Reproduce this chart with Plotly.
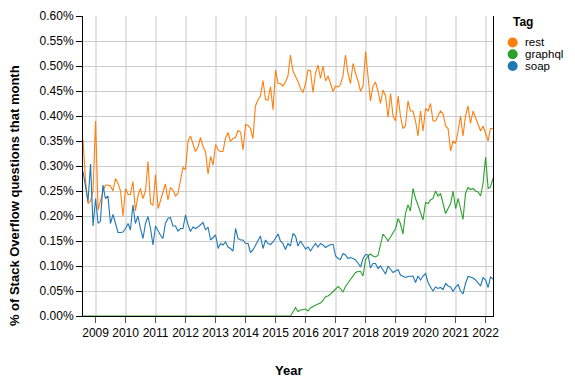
import pandas as pd
import plotly.graph_objects as go

# Monthly dates Aug 2008 .. Apr 2022
months = pd.date_range("2008-08-01", "2022-04-01", freq="MS")

tags = ["rest", "graphql", "soap"]
colors = ["#ff7f0e", "#2ca02c", "#1f77b4"]

# % of Stack Overflow questions that month
rest = [
    0.353, 0.27, 0.225, 0.23, 0.25,
    0.39, 0.212, 0.232, 0.249, 0.262, 0.262, 0.26, 0.25, 0.275, 0.265, 0.25, 0.20,
    0.255, 0.243, 0.243, 0.269, 0.21, 0.24, 0.255, 0.235, 0.25, 0.309, 0.225, 0.222,
    0.283, 0.215, 0.23, 0.245, 0.264, 0.232, 0.257, 0.252, 0.24, 0.245, 0.275, 0.297,
    0.293, 0.35, 0.36, 0.345, 0.329, 0.338, 0.357, 0.339, 0.328, 0.284, 0.319, 0.302,
    0.343, 0.332, 0.329, 0.329, 0.355, 0.367, 0.349, 0.355, 0.357, 0.371, 0.368, 0.332,
    0.383, 0.381, 0.375, 0.355, 0.42, 0.432, 0.44, 0.471, 0.433, 0.432, 0.459, 0.412,
    0.492, 0.465, 0.465, 0.46, 0.468, 0.48, 0.522, 0.49, 0.48, 0.469, 0.455, 0.447,
    0.465, 0.492, 0.49, 0.447, 0.485, 0.502, 0.475, 0.5, 0.47, 0.48, 0.465, 0.449,
    0.46, 0.458, 0.463, 0.48, 0.522, 0.485, 0.465, 0.505, 0.485, 0.47, 0.449, 0.46,
    0.529, 0.48, 0.43, 0.46, 0.468, 0.45, 0.425, 0.452, 0.44, 0.397, 0.445, 0.40,
    0.39, 0.44, 0.40, 0.375, 0.38, 0.43, 0.41, 0.41, 0.39, 0.36, 0.41, 0.37,
    0.415, 0.41, 0.425, 0.39, 0.39, 0.4, 0.41, 0.405, 0.38, 0.375, 0.33, 0.35,
    0.345, 0.37, 0.40, 0.36, 0.40, 0.42, 0.385, 0.41, 0.395, 0.385, 0.37, 0.38,
    0.365, 0.35, 0.375, 0.375,
]

graphql = [
    0, 0, 0, 0, 0,
    0, 0, 0, 0, 0, 0, 0, 0, 0, 0, 0, 0,
    0, 0, 0, 0, 0, 0, 0, 0, 0, 0, 0, 0,
    0, 0, 0, 0, 0, 0, 0, 0, 0, 0, 0, 0,
    0, 0, 0, 0, 0, 0, 0, 0, 0, 0, 0, 0,
    0, 0, 0, 0, 0, 0, 0, 0, 0, 0, 0, 0,
    0, 0, 0, 0, 0, 0, 0, 0, 0, 0, 0, 0,
    0, 0, 0, 0, 0, 0, 0, 0.008, 0.017, 0.009, 0.012, 0.013,
    0.014, 0.01, 0.016, 0.019, 0.022, 0.024, 0.026, 0.031, 0.039, 0.04, 0.044, 0.049,
    0.054, 0.059, 0.055, 0.048, 0.059, 0.066, 0.074, 0.08, 0.087, 0.089, 0.089, 0.08,
    0.113, 0.12, 0.124, 0.12, 0.118, 0.121, 0.14, 0.164, 0.158, 0.15, 0.158, 0.167,
    0.175, 0.195, 0.185, 0.164, 0.205, 0.222, 0.21, 0.255, 0.235, 0.222, 0.208, 0.192,
    0.227, 0.225, 0.232, 0.235, 0.25, 0.24, 0.245, 0.225, 0.205, 0.215, 0.225, 0.25,
    0.215, 0.235, 0.215, 0.193, 0.245, 0.257, 0.253, 0.255, 0.25, 0.248, 0.24, 0.265,
    0.318, 0.255, 0.258, 0.275,
]

soap = [
    0.289, 0.255, 0.229, 0.304, 0.18,
    0.235, 0.185, 0.19, 0.262, 0.235, 0.24, 0.185, 0.203, 0.185, 0.167, 0.167, 0.168,
    0.175, 0.185, 0.172, 0.222, 0.185, 0.2, 0.175, 0.155, 0.185, 0.199, 0.175, 0.142,
    0.18, 0.17, 0.162, 0.155, 0.185, 0.195, 0.197, 0.18, 0.18, 0.17, 0.175, 0.175,
    0.202, 0.182, 0.169, 0.178, 0.175, 0.178, 0.182, 0.187, 0.172, 0.178, 0.152, 0.158,
    0.162, 0.135, 0.145, 0.142, 0.148, 0.138, 0.135, 0.13, 0.175, 0.155, 0.152, 0.152,
    0.145, 0.145, 0.127, 0.132, 0.142, 0.152, 0.16, 0.135, 0.152, 0.145, 0.143, 0.148,
    0.155, 0.164, 0.15, 0.145, 0.133, 0.145, 0.14, 0.165, 0.16, 0.14, 0.15, 0.143,
    0.134, 0.138, 0.13, 0.138, 0.145, 0.138, 0.145, 0.142, 0.137, 0.14, 0.143, 0.143,
    0.12, 0.115, 0.113, 0.125, 0.122, 0.115, 0.117, 0.115, 0.112, 0.106, 0.098, 0.115,
    0.123, 0.122, 0.096, 0.105, 0.105, 0.095, 0.1, 0.092, 0.084, 0.1, 0.094, 0.087,
    0.09, 0.093, 0.082, 0.08, 0.077, 0.079, 0.08, 0.08, 0.067, 0.08, 0.072, 0.08,
    0.085, 0.067, 0.058, 0.05, 0.058, 0.055, 0.057, 0.053, 0.065, 0.06, 0.058, 0.049,
    0.058, 0.063, 0.05, 0.044, 0.065, 0.079, 0.078, 0.076, 0.072, 0.065, 0.06, 0.077,
    0.072, 0.057, 0.078, 0.074,
]

series = [rest, graphql, soap]

FONT = "Liberation Sans, Arial, sans-serif"

fig = go.Figure()
for name, vals, col in zip(tags, series, colors):
    fig.add_trace(go.Scatter(x=months, y=vals, mode="lines", name=name,
                             line=dict(color=col, width=1.1), showlegend=False))

# Legend (symbol + label), placed in the right margin
annotations = [
    dict(text="<b>% of Stack Overflow questions that month</b>", xref="paper", yref="paper",
         x=-0.168, y=0.4, textangle=-90, showarrow=False, font=dict(size=13),
         xanchor="center", yanchor="middle"),
    dict(text="<b>Year</b>", xref="paper", yref="paper", x=0.5, y=-0.183,
         showarrow=False, font=dict(size=13), xanchor="center", yanchor="middle"),
    dict(text="<b>Tag</b>", xref="paper", yref="paper", x=1.044, y=0.98,
         showarrow=False, font=dict(size=12), xanchor="left", yanchor="middle"),
]
shapes = []
leg_y = [0.9117, 0.8723, 0.8333]
for name, col, ly in zip(tags, colors, leg_y):
    shapes.append(dict(type="circle", xref="paper", yref="paper",
                       xsizemode="pixel", ysizemode="pixel",
                       xanchor=1.048, yanchor=ly, x0=-5, x1=5, y0=-5, y1=5,
                       fillcolor=col, line=dict(width=0)))
    annotations.append(dict(text=name, xref="paper", yref="paper", x=1.076, y=ly,
                            showarrow=False, font=dict(size=11.5), borderpad=0,
                            xanchor="left", yanchor="middle"))

fig.update_layout(
    width=575, height=391,
    margin=dict(l=83, r=82, t=16, b=75, autoexpand=False),
    plot_bgcolor="white", paper_bgcolor="white",
    font=dict(family=FONT, size=12, color="#000"),
    showlegend=False,
    annotations=annotations,
    shapes=shapes,
)
fig.update_xaxes(
    type="date", range=["2008-08-01", "2022-04-01"],
    dtick="M12", tick0="2009-01-01", tickformat="%Y", tickangle=0,
    automargin=False,
    showgrid=True, gridcolor="#e3e3e3", gridwidth=2,
    showline=True, linecolor="#000", linewidth=1,
    ticks="outside", ticklen=6, tickcolor="#555",
    zeroline=False,
)
fig.update_yaxes(
    range=[0, 0.6], dtick=0.05, tickformat=".2f", ticksuffix="%",
    automargin=False,
    showgrid=True, gridcolor="#cccccc", gridwidth=1,
    showline=True, linecolor="#000", linewidth=1, mirror=True,
    ticks="outside", ticklen=6, tickcolor="#000",
    zeroline=False,
)

fig.write_html("out.html", config={"displayModeBar": False},
               post_script="document.body.style.margin='0';")
